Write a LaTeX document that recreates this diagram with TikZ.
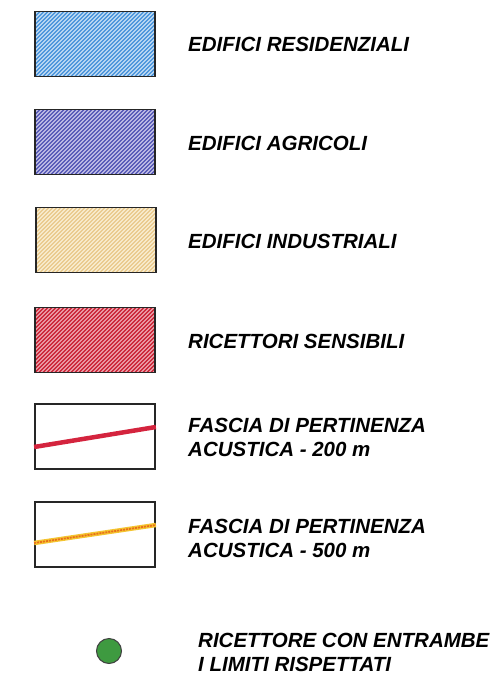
\documentclass[tikz,border=0pt]{standalone}
\usepackage{fontspec}
\setmainfont{Liberation Sans}
\definecolor{resline}{HTML}{4F97DC}
\definecolor{resfill}{HTML}{D6E8F8}
\definecolor{agrline}{HTML}{5A5DB8}
\definecolor{agrfill}{HTML}{D8D4F0}
\definecolor{indline}{HTML}{EACB90}
\definecolor{indfill}{HTML}{FBF4DE}
\definecolor{senline}{HTML}{CC2A3C}
\definecolor{senfill}{HTML}{F2B8C0}
\definecolor{fasred}{HTML}{D4243E}
\definecolor{fasyel}{HTML}{F4C430}
\definecolor{fasora}{HTML}{E8701A}
\definecolor{dotgreen}{HTML}{3E9A40}
\begin{document}
\begin{tikzpicture}[x=1pt,y=-1pt,
  box/.style={draw=black!85,line width=1.8pt,minimum width=120pt,minimum height=65pt,inner sep=0pt},
  hatch/.style 2 args={box,fill=#1,path picture={
    \foreach \i in {-80,-76,...,124}
      \draw[#2,line width=1.6pt] ([xshift=\i pt]path picture bounding box.south west) -- ++(80,-80);}},
  lbl/.style={anchor=north west,inner sep=0pt,align=left,font=\fontsize{20.5}{24}\selectfont\bfseries\itshape}]
  \useasboundingbox (0,0) rectangle (499,680);
  \node[hatch={resfill}{resline}] (resid) at (95,44) {};
  \node[hatch={agrfill}{agrline}] (agric) at (95,142) {};
  \node[hatch={indfill}{indline}] (indus) at (96,240) {};
  \node[hatch={senfill}{senline}] (sens) at (95,340) {};
  \node[box] (fasc2) at (95,436.5) {};
  \node[box] (fasc5) at (95,534.5) {};
  \node[circle,draw=black!75,line width=1pt,fill=dotgreen,minimum size=25pt] (ricet) at (109,651) {};
  \draw[fasred,line width=4.5pt] ([yshift=-10.5pt]fasc2.west) -- ([yshift=9.5pt]fasc2.east);
  \draw[fasyel,line width=4.5pt] ([yshift=-8.5pt]fasc5.west) -- ([yshift=9.5pt]fasc5.east);
  \draw[fasora,line width=1.8pt,dash pattern=on 2pt off 1pt] ([yshift=-8.5pt]fasc5.west) -- ([yshift=9.5pt]fasc5.east);
  \node[lbl] (tresid) at (188,37) {EDIFICI RESIDENZIALI};
  \node[lbl] (tagric) at (188,136) {EDIFICI AGRICOLI};
  \node[lbl] (tindus) at (188,234) {EDIFICI INDUSTRIALI};
  \node[lbl] (tsens) at (188,334) {RICETTORI SENSIBILI};
  \node[lbl] (tfasc2) at (188,418) {FASCIA DI PERTINENZA\\ACUSTICA - 200 m};
  \node[lbl] (tfasc5) at (188,519) {FASCIA DI PERTINENZA\\ACUSTICA - 500 m};
  \node[lbl] (tricet) at (198,633) {RICETTORE CON ENTRAMBE\\I LIMITI RISPETTATI};
\end{tikzpicture}
\end{document}
